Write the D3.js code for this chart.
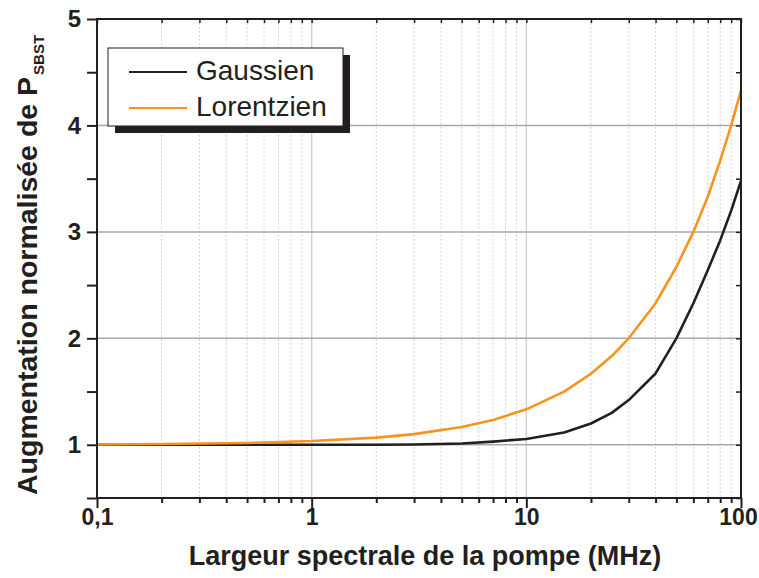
<!DOCTYPE html>
<html>
<head>
<meta charset="utf-8">
<script src="https://cdn.jsdelivr.net/npm/d3@7"></script>
<style>
  html, body { margin: 0; padding: 0; background: #ffffff; }
  svg { display: block; }
  text { font-family: "Liberation Sans", Arial, sans-serif; }
</style>
</head>
<body>
<script>
// Pump spectral width (MHz) at which each curve is sampled
const widths = [0.1, 0.2, 0.5, 1, 2, 3, 5, 7, 10, 15, 20, 25, 30, 40, 50, 60, 70, 80, 90, 100];
// Normalised SBS threshold increase, Gaussian pump line shape
const gaussien = [1.0, 1.0, 1.0, 1.0, 1.0, 1.003, 1.012, 1.03, 1.055, 1.115, 1.2, 1.3, 1.42, 1.67, 2.0, 2.33, 2.64, 2.92, 3.2, 3.48];
// Normalised SBS threshold increase, Lorentzian pump line shape
const lorentzien = [1.003, 1.007, 1.017, 1.035, 1.067, 1.1, 1.167, 1.233, 1.333, 1.5, 1.667, 1.833, 2.0, 2.33, 2.67, 3.0, 3.33, 3.67, 4.0, 4.33];

const seriesNames = ["Gaussien", "Lorentzien"];
const xTickValues = [0.1, 1, 10, 100];
const xTickLabels = ["0,1", "1", "10", "100"];
const yTickValues = [1, 2, 3, 4, 5];
const yTickLabels = ["1", "2", "3", "4", "5"];

const W = 759, H = 578;
const margin = { left: 97, right: 18, top: 19, bottom: 80 };
const colors = { Gaussien: "#231f20", Lorentzien: "#f7931e" };

const svg = d3.select("body").append("svg").attr("width", W).attr("height", H);

const x = d3.scaleLog().domain([0.1, 100]).range([margin.left, W - margin.right]);
const y = d3.scaleLinear().domain([0.5, 5]).range([H - margin.bottom, margin.top]);
const [x0, x1] = x.range();
const [yb, yt] = y.range();

// minor positions 2..9 in every decade, and the decade positions themselves
const minorX = [];
for (let d = 0.1; d < 100; d *= 10) for (let k = 2; k <= 9; k++) minorX.push(+(d * k).toPrecision(3));
const allX = xTickValues.concat(minorX).sort((a, b) => a - b);
const halfY = d3.range(0.5, 5.01, 0.5);

// grid
const grid = svg.append("g");
grid.selectAll("line.minor").data(minorX).join("line")
  .attr("x1", d => x(d)).attr("x2", d => x(d)).attr("y1", yt).attr("y2", yb)
  .attr("stroke", "#c8c8c8").attr("stroke-width", 1).attr("stroke-dasharray", "1.5,2.5");
grid.selectAll("line.majx").data([1, 10]).join("line")
  .attr("x1", d => x(d)).attr("x2", d => x(d)).attr("y1", yt).attr("y2", yb)
  .attr("stroke", "#d2d2d2").attr("stroke-width", 1.5);
grid.selectAll("line.majy").data([1, 2, 3, 4]).join("line")
  .attr("x1", x0).attr("x2", x1).attr("y1", d => y(d)).attr("y2", d => y(d))
  .attr("stroke", "#a9a9a9").attr("stroke-width", 1.5);

// curves
const line = d3.line().x(d => x(d[0])).y(d => y(d[1]));
const series = [
  { name: "Gaussien", values: gaussien },
  { name: "Lorentzien", values: lorentzien }
];
svg.append("g").selectAll("path").data(series).join("path")
  .attr("d", s => line(widths.map((w, i) => [w, s.values[i]])))
  .attr("fill", "none").attr("stroke", s => colors[s.name])
  .attr("stroke-width", 2.6).attr("stroke-linejoin", "round");

// axes
const labelFont = (g, size) => g.selectAll("text")
  .attr("font-family", "'Liberation Sans', Arial, sans-serif")
  .attr("font-weight", "bold").attr("font-size", size).attr("fill", "#231f20");

const xAxis = d3.axisBottom(x).tickValues(allX)
  .tickSize(0).tickPadding(11)
  .tickFormat(d => { const i = xTickValues.indexOf(d); return i >= 0 ? xTickLabels[i] : ""; });
const gx = svg.append("g").attr("transform", `translate(0,${yb})`).call(xAxis);
gx.select(".domain").remove();
gx.selectAll(".tick line").attr("y2", d => xTickValues.includes(d) ? 10 : 5)
  .attr("stroke", "#231f20").attr("stroke-width", 2);
labelFont(gx, 23);
// keep the last label inside the page edge
gx.selectAll(".tick text").filter(d => d === 100).attr("dx", -3);

const yAxis = d3.axisLeft(y).tickValues(halfY).tickSize(10).tickPadding(6)
  .tickFormat(d => { const i = yTickValues.indexOf(d); return i >= 0 ? yTickLabels[i] : ""; });
const gy = svg.append("g").attr("transform", `translate(${x0},0)`).call(yAxis);
gy.select(".domain").remove();
gy.selectAll(".tick line").attr("stroke", "#231f20").attr("stroke-width", 2);
labelFont(gy, 24);

// mirrored inner ticks on right and top
const gr = svg.append("g").attr("transform", `translate(${x1},0)`)
  .call(d3.axisRight(y).tickValues(halfY).tickSize(-5).tickFormat(""));
gr.select(".domain").remove();
gr.selectAll(".tick line").attr("stroke", "#231f20").attr("stroke-width", 1.5);
const gt = svg.append("g").attr("transform", `translate(0,${yt})`)
  .call(d3.axisTop(x).tickValues(allX).tickSize(-4).tickFormat(""));
gt.select(".domain").remove();
gt.selectAll(".tick line").attr("stroke", "#231f20").attr("stroke-width", 1.5);

// frame
svg.append("rect").attr("x", x0).attr("y", yt).attr("width", x1 - x0).attr("height", yb - yt)
  .attr("fill", "none").attr("stroke", "#231f20").attr("stroke-width", 2);

// axis titles
svg.append("text").attr("x", (x0 + x1) / 2 + 6).attr("y", 565)
  .attr("text-anchor", "middle").attr("font-weight", "bold").attr("font-size", 27)
  .attr("fill", "#231f20").text("Largeur spectrale de la pompe (MHz)");

const yTitle = svg.append("text")
  .attr("transform", "translate(37,495) rotate(-90)")
  .attr("font-weight", "bold").attr("font-size", 28.5).attr("fill", "#231f20");
yTitle.append("tspan").text("Augmentation normalisée de P");
yTitle.append("tspan").attr("font-size", 15).attr("dy", 7).attr("dx", 2).text("SBST");

// legend with drop shadow
const lg = svg.append("g").attr("transform", "translate(108,48)");
lg.append("rect").attr("x", 7).attr("y", 7).attr("width", 235).attr("height", 78).attr("fill", "#231f20");
lg.append("rect").attr("x", 0).attr("y", 0).attr("width", 235).attr("height", 78)
  .attr("fill", "#ffffff").attr("stroke", "#231f20").attr("stroke-width", 1);
seriesNames.forEach((name, i) => {
  const cy = 24 + i * 36;
  lg.append("line").attr("x1", 21).attr("x2", 79).attr("y1", cy).attr("y2", cy)
    .attr("stroke", colors[name]).attr("stroke-width", 2.2);
  lg.append("text").attr("x", 88).attr("y", cy + 8)
    .attr("font-size", 28).attr("fill", "#231f20").text(name);
});
</script>
</body>
</html>
